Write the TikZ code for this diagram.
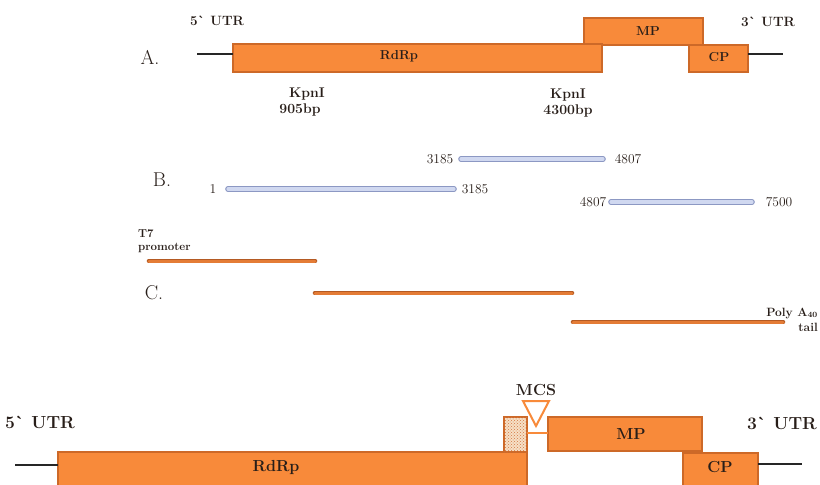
\documentclass[tikz,border=0pt]{standalone}
\usetikzlibrary{patterns}
\definecolor{genefill}{RGB}{248,138,58}
\definecolor{genedraw}{RGB}{205,105,40}
\definecolor{barorange}{RGB}{228,124,54}
\definecolor{baredge}{RGB}{180,90,35}
\definecolor{blueedge}{RGB}{140,152,195}
\definecolor{bluefill}{RGB}{208,216,240}
\definecolor{dotbg}{RGB}{246,224,198}
\definecolor{dotfg}{RGB}{212,118,66}
\definecolor{txt}{RGB}{40,30,25}
\tikzset{
  gene/.style={draw=genedraw, fill=genefill, line width=1.2pt, inner sep=0pt, outer sep=0pt, anchor=north west},
  glbl/.style={font=\bfseries\fontsize{#1}{#1}\selectfont, text=txt, inner sep=0pt},
  nlbl/.style={font=\fontsize{13.5}{13.5}\selectfont, text=txt, inner sep=0pt},
  sec/.style={font=\fontsize{20}{20}\selectfont, text=txt, inner sep=0pt},
  utrline/.style={line width=2pt, black!85},
  bbar/.style={draw=blueedge, line width=1.2pt, double=bluefill, double distance=3.2pt, line cap=round},
  obar/.style={draw=baredge, line width=0.8pt, double=barorange, double distance=3pt, line cap=round},
}
\begin{document}
\begin{tikzpicture}[x=1pt, y=-1pt]
\clip (0,0) rectangle (820,485);
\fill[white] (0,0) rectangle (820,485);

% ---------------- A ----------------
\node[glbl=13.5] (utr5a) at (217,21) {5\textasciigrave\ UTR};
\node[glbl=13.5] (utr3a) at (768,22) {3\textasciigrave\ UTR};
\node[sec] (secA) at (150,57) {A.};
\node[gene, minimum width=119pt, minimum height=27pt] (mpA) at (584,18) {};
\node[gene, minimum width=369pt, minimum height=28pt] (rdrpA) at (233,44) {};
\node[gene, minimum width=59pt, minimum height=27pt] (cpA) at (689,45) {};
\node[glbl=13] (rdrpAl) at (399,56) {RdRp};
\node[glbl=13] (mpAl) at (648,31) {MP};
\node[glbl=13] (cpAl) at (719,57) {CP};
\coordinate (la) at (197,54);
\coordinate (ra) at (783,54);
\draw[utrline] (la) -- (la -| rdrpA.west);
\draw[utrline] (ra -| cpA.east) -- (ra);
\node[glbl=14] (kpn1) at (307,94) {KpnI};
\node[glbl=14] (bp1) at (300,110) {905bp};
\node[glbl=14] (kpn2) at (568,95) {KpnI};
\node[glbl=14] (bp2) at (568,111) {4300bp};

% ---------------- B ----------------
\node[sec] (secB) at (162,180) {B.};
\node[nlbl] (n3185a) at (440,159) {3185};
\node[nlbl] (n4807a) at (628,159) {4807};
\node[nlbl] (n1) at (213,189) {1};
\node[nlbl] (n3185b) at (475,189) {3185};
\node[nlbl] (n4807b) at (593,202) {4807};
\node[nlbl] (n7500) at (779,202) {7500};
\coordinate (b1s) at (461,159); \coordinate (b1e) at (603,159);
\coordinate (b2s) at (228,189); \coordinate (b2e) at (454,189);
\coordinate (b3s) at (611,202); \coordinate (b3e) at (752,202);
\draw[bbar] (b1s) -- (b1e);
\draw[bbar] (b2s) -- (b2e);
\draw[bbar] (b3s) -- (b3e);

% ---------------- C ----------------
\node[glbl=11.5, anchor=west] (t7) at (138,234) {T7};
\node[glbl=11.5, anchor=west] (prom) at (138,248) {promoter};
\node[sec] (secC) at (154,293) {C.};
\coordinate (c1s) at (149,261); \coordinate (c1e) at (315,261);
\coordinate (c2s) at (315,293); \coordinate (c2e) at (572,293);
\coordinate (c3s) at (573,322); \coordinate (c3e) at (783,322);
\draw[obar] (c1s) -- (c1e);
\draw[obar] (c2s) -- (c2e);
\draw[obar] (c3s) -- (c3e);
\node[glbl=12, anchor=east] (polya) at (818,313) {Poly A$_{\mathbf{40}}$};
\node[glbl=12, anchor=east] (tail) at (818,327) {tail};

% ---------------- bottom construct ----------------
\node[glbl=17.5] (utr5b) at (40,422) {5\textasciigrave\ UTR};
\node[glbl=17.5] (utr3b) at (782,423) {3\textasciigrave\ UTR};
\node[gene, minimum width=469pt, minimum height=50pt] (rdrpB) at (58,452) {};
\node[gene, minimum width=154pt, minimum height=34pt] (mpB) at (548,417) {};
\node[gene, minimum width=75pt, minimum height=45pt] (cpB) at (683,453) {};
\node[draw=genedraw, fill=dotbg, line width=1.2pt, inner sep=0pt, outer sep=0pt, anchor=north west,
      minimum width=23pt, minimum height=35pt,
      postaction={pattern=crosshatch dots, pattern color=dotfg}] (dotbox) at (504,417) {};
\node[glbl=16] (rdrpBl) at (276,467) {RdRp};
\node[glbl=16] (mpBl) at (631,434) {MP};
\node[glbl=16] (cpBl) at (720,467) {CP};
\node[glbl=16] (mcs) at (536,390) {MCS};
\coordinate (mcsl) at (537,433);
\draw[genefill, line width=1.5pt] (dotbox.east |- mcsl) -- (mpB.west |- mcsl);
\draw[genefill, line width=2pt, fill=white, line join=miter] (523,401) -- (549,401) -- (536,426) -- cycle;
\coordinate (lb) at (15,465);
\coordinate (rb) at (802,464);
\draw[utrline] (lb) -- (lb -| rdrpB.west);
\draw[utrline] (rb -| cpB.east) -- (rb);
\end{tikzpicture}
\end{document}
